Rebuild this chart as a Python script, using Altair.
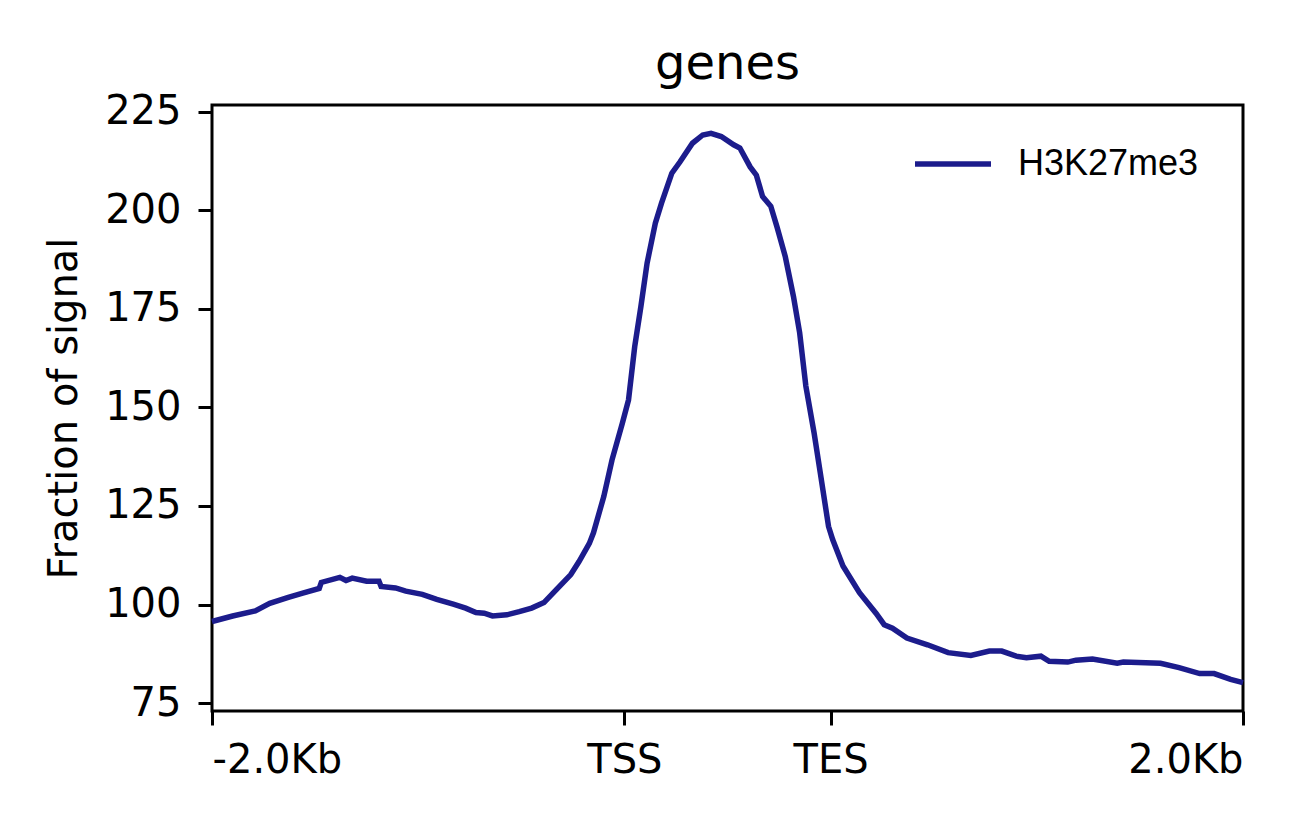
import altair as alt
import pandas as pd

# Profile data (bin index 0..500, 10 bp bins; TSS at 200, TES at 300)
bins = [0, 10, 21, 28, 37, 44, 52, 53, 62, 65, 68, 75, 81, 82, 89, 94, 102, 109, 117, 123,
        128, 132, 136, 143, 149, 155, 161, 167, 174, 178, 183, 185, 190, 194, 199, 202, 205,
        208, 211, 215, 218, 223, 227, 233, 238, 242, 247, 253, 256, 261, 264, 267, 271, 274,
        278, 282, 285, 288, 292, 295, 299, 301, 306, 314, 322, 326, 330, 337, 347, 357, 368,
        377, 383, 390, 395, 402, 406, 415, 419, 427, 439, 442, 460, 469, 479, 486, 494, 500]
signal = [95.7, 97.1, 98.4, 100.3, 101.8, 102.9, 104.1, 105.6, 106.9, 106.1, 106.7, 105.9,
          105.9, 104.6, 104.2, 103.4, 102.6, 101.3, 100.1, 99.1, 98.0, 97.8, 97.1, 97.4, 98.2,
          99.1, 100.5, 103.8, 107.6, 110.9, 115.5, 118.2, 127.4, 136.7, 146.0, 151.9, 165.4,
          175.6, 186.6, 196.7, 201.8, 209.4, 212.3, 217.0, 219.1, 219.5, 218.7, 216.6, 215.8,
          211.0, 208.9, 203.5, 201.0, 195.8, 188.3, 178.1, 168.9, 155.4, 143.5, 133.4, 119.8,
          116.5, 109.8, 103.0, 97.8, 94.9, 94.0, 91.5, 89.8, 87.8, 87.1, 88.2, 88.2, 86.9,
          86.5, 86.9, 85.6, 85.4, 85.9, 86.2, 85.1, 85.4, 85.1, 84.0, 82.5, 82.5, 81.0, 80.2]
series_name = "H3K27me3"

x_tick_values = [0, 200, 300, 500]
x_tick_labels = ["-2.0Kb", "TSS", "TES", "2.0Kb"]
y_tick_values = [75, 100, 125, 150, 175, 200, 225]

df = pd.DataFrame({"bin": bins, "signal": signal, "series": series_name})

label_expr = " : ".join(
    f"datum.value == {v} ? '{l}'" for v, l in zip(x_tick_values[:-1], x_tick_labels[:-1])
) + f" : '{x_tick_labels[-1]}'"

line_color = "#1c1c8c"
font = "DejaVu Sans"

chart = alt.Chart(df).mark_line(strokeWidth=5.5).encode(
    x=alt.X("bin:Q",
            scale=alt.Scale(domain=[0, 500], nice=False, zero=False),
            axis=alt.Axis(values=x_tick_values, labelExpr=label_expr, title=None,
                          grid=False, domain=False, tickSize=14, tickWidth=3,
                          tickColor="black", labelFontSize=40, labelFont=font,
                          labelColor="black", labelPadding=15, labelFlush=True)),
    y=alt.Y("signal:Q",
            scale=alt.Scale(domain=[73.0, 226.7], nice=False, zero=False),
            axis=alt.Axis(values=y_tick_values, title="Fraction of signal",
                          grid=False, domain=False, tickSize=14, tickWidth=3,
                          tickColor="black", labelFontSize=40, labelFont=font,
                          labelColor="black", labelPadding=17,
                          titleFontSize=40, titleFont=font, titleFontWeight="normal",
                          titleColor="black", titlePadding=20)),
    color=alt.Color("series:N",
                    scale=alt.Scale(domain=[series_name], range=[line_color]),
                    legend=alt.Legend(orient="none", legendX=700, legendY=18, title=None,
                                      symbolType="stroke", symbolSize=5776,
                                      symbolStrokeWidth=5.5, labelFontSize=36,
                                      labelFont="Liberation Sans", labelColor="black",
                                      labelOffset=24, labelLimit=0, padding=0)),
).properties(
    width=1031,
    height=606,
    autosize=alt.AutoSizeParams(type="none"),
    padding={"left": 204, "top": 97, "right": 40, "bottom": 90},
    title=alt.TitleParams("genes", fontSize=48, font=font, fontWeight="normal",
                          color="black", anchor="middle", frame="group",
                          baseline="alphabetic", offset=25, dy=60),
).configure_view(stroke="black", strokeWidth=3)

chart.save("out.html", embed_options={"renderer": "svg", "actions": False})
